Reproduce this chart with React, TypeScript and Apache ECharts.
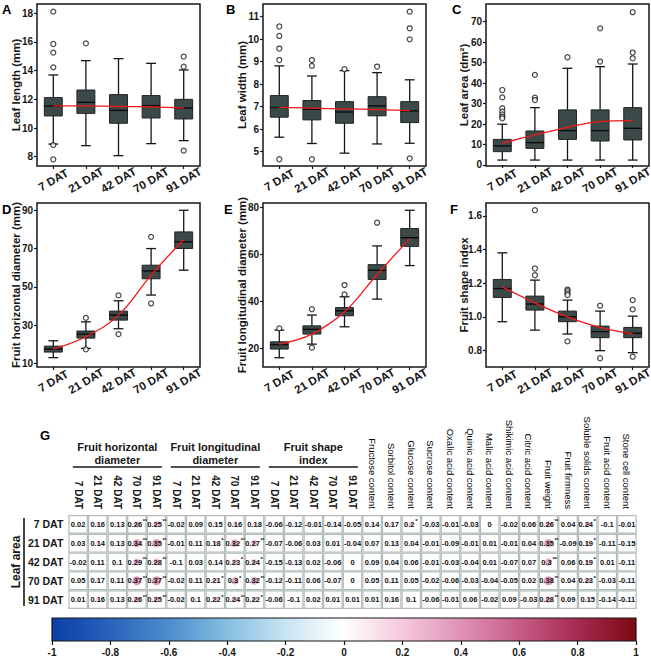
import React, { useEffect, useRef } from "react";
import * as echarts from "echarts";

const FONT = "'Liberation Sans', Arial, Helvetica, sans-serif";

// ---------- categories ----------
const DAT = ["7 DAT", "21 DAT", "42 DAT", "70 DAT", "91 DAT"];

// ---------- box plots: [lower whisker, Q1, median, Q3, upper whisker] ----------
const leafLengthBox = [
  [8.88, 10.84, 11.53, 12.12, 13.7],
  [8.77, 11.02, 11.79, 12.65, 14.7],
  [8.07, 10.33, 11.23, 12.33, 14.84],
  [8.91, 10.7, 11.56, 12.26, 14.51],
  [9.12, 10.63, 11.4, 12.0, 14.05],
];
const leafLengthOutliers = [[18.12, 15.86, 15.26, 14.23, 8.81, 7.81], [15.9], [], [], [14.98, 14.28, 8.42]];
const leafLengthTrend = [11.55, 11.55, 11.5, 11.47, 11.4];
const leafLengthTicks = [8, 10, 12, 14, 16, 18];

const leafWidthBox = [
  [5.64, 6.53, 6.96, 7.49, 8.81],
  [5.36, 6.41, 6.88, 7.27, 8.36],
  [4.93, 6.26, 6.76, 7.22, 8.6],
  [5.34, 6.59, 7.03, 7.44, 8.51],
  [5.37, 6.29, 6.81, 7.22, 8.19],
];
const leafWidthOutliers = [[10.56, 10.14, 9.58, 9.07, 4.66], [9.07, 8.81, 4.66], [8.66], [8.78], [11.22, 10.48, 9.99, 4.7]];
const leafWidthTrend = [6.97, 6.93, 6.9, 6.87, 6.82];
const leafWidthTicks = [5, 6, 7, 8, 9, 10, 11];

const leafAreaBox = [
  [2.4, 6.5, 9.3, 12.5, 19.9],
  [2.4, 8.1, 10.9, 16.6, 28.0],
  [2.4, 12.5, 16.8, 26.9, 47.2],
  [2.4, 11.7, 16.8, 26.9, 48.0],
  [2.4, 12.2, 17.9, 28.0, 49.3],
];
const leafAreaOutliers = [[36.6, 33.0, 27.7, 26.0, 24.7, 23.6, 22.8], [44.0, 32.9, 31.7], [52.6], [66.7, 50.5], [74.6, 54.9, 52.1]];
const leafAreaTrend = [10.6, 14.7, 18.4, 21.2, 21.7];
const leafAreaTicks = [0, 10, 20, 30, 40, 50, 60, 70];

const fruitHorizBox = [
  [13.0, 15.9, 17.5, 19.0, 21.8],
  [17.8, 23.2, 25.3, 26.9, 31.7],
  [28.1, 32.6, 35.2, 37.3, 42.7],
  [45.7, 54.2, 58.3, 61.3, 70.0],
  [58.7, 70.0, 73.5, 78.7, 90.0],
];
const fruitHorizOutliers = [[], [33.8, 17.3], [45.5, 25.3], [76.1, 41.3], []];
const fruitHorizTrend = [17.5, 23.9, 35.2, 56.1, 74.7];
const fruitHorizTicks = [10, 30, 50, 70, 90];

const fruitLongBox = [
  [16.0, 19.7, 21.6, 22.8, 27.8],
  [21.8, 26.1, 28.1, 29.6, 34.2],
  [29.2, 33.9, 36.0, 37.4, 42.0],
  [41.0, 49.4, 53.3, 55.7, 63.7],
  [55.3, 63.5, 67.2, 71.1, 78.9],
];
const fruitLongOutliers = [[28.5], [36.7, 20.3], [47.0, 43.0], [73.6], []];
const fruitLongTrend = [21.8, 26.1, 35.6, 51.5, 66.8];
const fruitLongTicks = [20, 40, 60, 80];

const fruitShapeBox = [
  [0.972, 1.116, 1.169, 1.223, 1.381],
  [0.922, 1.041, 1.077, 1.124, 1.219],
  [0.899, 0.972, 1.001, 1.035, 1.1],
  [0.8, 0.877, 0.913, 0.946, 1.035],
  [0.788, 0.877, 0.903, 0.938, 1.005],
];
const fruitShapeOutliers = [[], [1.634, 1.288, 1.248], [1.163, 1.153, 1.14, 1.13, 0.855], [1.067, 0.755], [1.1, 1.045, 0.764]];
const fruitShapeTrend = [1.179, 1.084, 1.001, 0.938, 0.899];
const fruitShapeTicks = [0.8, 1.0, 1.2, 1.4, 1.6];

// ---------- correlation matrix ----------
const FRUIT_GROUPS = ["Fruit horizontal\ndiameter", "Fruit longitudinal\ndiameter", "Fruit shape\nindex"];
const QUALITY_TRAITS = [
  "Fructose content", "Sorbitol content", "Glucose content", "Sucrose content",
  "Oxalic acid content", "Quinic acid content", "Malic acid content", "Shikimic acid content",
  "Citric acid content", "Fruit weight", "Fruit firmness", "Soluble solids content",
  "Fruit acid content", "Stone cell content",
];
const CORR_VALUES = [
  [0.02, 0.16, 0.13, 0.26, 0.25, -0.02, 0.09, 0.15, 0.16, 0.18, -0.06, -0.12, -0.01, -0.14, -0.05, 0.14, 0.17, 0.2, -0.03, -0.01, -0.03, 0, -0.02, 0.06, 0.26, 0.04, 0.24, -0.1, -0.01],
  [0.03, 0.14, 0.13, 0.34, 0.35, -0.01, 0.11, 0.18, 0.32, 0.27, -0.07, -0.06, 0.03, 0.01, -0.04, 0.07, 0.13, 0.04, -0.01, -0.09, -0.01, 0.01, -0.01, 0.04, 0.35, -0.09, 0.19, -0.11, -0.15],
  [-0.02, 0.11, 0.1, 0.29, 0.28, -0.1, 0.03, 0.14, 0.23, 0.24, -0.15, -0.13, 0.02, -0.06, 0, 0.09, 0.04, 0.06, -0.01, -0.03, -0.04, 0.01, -0.07, 0.07, 0.3, 0.06, 0.19, 0.01, -0.11],
  [0.05, 0.17, 0.11, 0.37, 0.37, -0.02, 0.11, 0.21, 0.3, 0.32, -0.12, -0.11, 0.06, -0.07, 0, 0.05, 0.11, 0.05, -0.02, -0.06, -0.03, -0.04, -0.05, 0.02, 0.38, 0.04, 0.23, -0.03, -0.11],
  [0.01, 0.16, 0.13, 0.26, 0.25, -0.02, 0.1, 0.22, 0.24, 0.22, -0.06, -0.1, 0.02, 0.01, 0.01, 0.01, 0.16, 0.1, -0.06, -0.01, 0.06, -0.02, 0.09, -0.03, 0.28, 0.09, 0.15, -0.14, -0.11],
];
// number of significance asterisks
const CORR_STARS = [
  [0, 0, 0, 2, 2, 0, 0, 0, 0, 0, 0, 0, 0, 0, 0, 0, 0, 1, 0, 0, 0, 0, 0, 0, 2, 0, 1, 0, 0],
  [0, 0, 0, 2, 2, 0, 0, 1, 2, 2, 0, 0, 0, 0, 0, 0, 0, 0, 0, 0, 0, 0, 0, 0, 2, 0, 1, 0, 0],
  [0, 0, 0, 2, 2, 0, 0, 0, 1, 1, 0, 0, 0, 0, 0, 0, 0, 0, 0, 0, 0, 0, 0, 0, 2, 0, 1, 0, 0],
  [0, 0, 0, 2, 2, 0, 0, 1, 1, 2, 0, 0, 0, 0, 0, 0, 0, 0, 0, 0, 0, 0, 0, 0, 2, 0, 1, 0, 0],
  [0, 0, 0, 2, 2, 0, 0, 1, 2, 1, 0, 0, 0, 0, 0, 0, 0, 0, 0, 0, 0, 0, 0, 0, 2, 0, 0, 0, 0],
];

// ---------- colour scale ----------
const CB_VALUES = [-1, -0.8, -0.6, -0.4, -0.2, 0, 0.2, 0.4, 0.6, 0.8, 1];
const CB_COLORS = ["#0b3ea6", "#2a63bb", "#4d8dcc", "#86bee1", "#c8e4f1", "#ffffff", "#f4c9dc", "#df92b5", "#c65d86", "#a52b51", "#7b0a14"];

function hexRgb(c: string) {
  return [parseInt(c.slice(1, 3), 16), parseInt(c.slice(3, 5), 16), parseInt(c.slice(5, 7), 16)];
}
function colorFor(v: number) {
  for (let i = 0; i < CB_VALUES.length - 1; i++) {
    if (v <= CB_VALUES[i + 1]) {
      const t = (v - CB_VALUES[i]) / (CB_VALUES[i + 1] - CB_VALUES[i]);
      const a = hexRgb(CB_COLORS[i]);
      const b = hexRgb(CB_COLORS[i + 1]);
      const m = a.map((x, k) => Math.round(x + (b[k] - x) * t));
      return `rgb(${m[0]},${m[1]},${m[2]})`;
    }
  }
  return CB_COLORS[CB_COLORS.length - 1];
}

const PANELS = [
  { letter: "A", title: "Leaf length (mm)", box: leafLengthBox, out: leafLengthOutliers, trend: leafLengthTrend, ticks: leafLengthTicks, dec: 0 },
  { letter: "B", title: "Leaf width (mm)", box: leafWidthBox, out: leafWidthOutliers, trend: leafWidthTrend, ticks: leafWidthTicks, dec: 0 },
  { letter: "C", title: "Leaf area (dm²)", box: leafAreaBox, out: leafAreaOutliers, trend: leafAreaTrend, ticks: leafAreaTicks, dec: 0 },
  { letter: "D", title: "Fruit horizontal diameter (mm)", box: fruitHorizBox, out: fruitHorizOutliers, trend: fruitHorizTrend, ticks: fruitHorizTicks, dec: 0 },
  { letter: "E", title: "Fruit longitudinal diameter (mm)", box: fruitLongBox, out: fruitLongOutliers, trend: fruitLongTrend, ticks: fruitLongTicks, dec: 0 },
  { letter: "F", title: "Fruit shape index", box: fruitShapeBox, out: fruitShapeOutliers, trend: fruitShapeTrend, ticks: fruitShapeTicks, dec: 1 },
];

const LAYOUT = [
  { left: 37, top: 4, width: 163, height: 162, yMin: 7.35, yMax: 18.65, gap: 15, lx: 2, ly: 3 },
  { left: 263, top: 4, width: 163, height: 162, yMin: 4.36, yMax: 11.56, gap: 15, lx: 226, ly: 3 },
  { left: 486, top: 4, width: 163, height: 162, yMin: -0.5, yMax: 78.6, gap: 16, lx: 452, ly: 3 },
  { left: 37, top: 203, width: 163, height: 164, yMin: 8.1, yMax: 93.8, gap: 15, lx: 2, ly: 203 },
  { left: 263, top: 203, width: 163, height: 164, yMin: 12.05, yMax: 82, gap: 15, lx: 224, ly: 203 },
  { left: 486, top: 203, width: 163, height: 164, yMin: 0.703, yMax: 1.677, gap: 16, lx: 450, ly: 203 },
];

const HM = { left: 68.3, top: 515, width: 568.4, height: 94 };
const CB = { left: 52, top: 618, width: 584, height: 23 };
const INK = "#161616";

export default function App() {
  const ref = useRef<HTMLDivElement>(null);

  useEffect(() => {
    if (!ref.current) return;
    const chart = echarts.init(ref.current, null, { renderer: "svg" });

    const grid: any[] = [];
    const xAxis: any[] = [];
    const yAxis: any[] = [];
    const series: any[] = [];
    const graphic: any[] = [];
    const pos = [1, 2, 3, 4, 5];

    PANELS.forEach((p, i) => {
      const L = LAYOUT[i];
      grid.push({
        left: L.left, top: L.top, width: L.width, height: L.height,
        show: true, borderColor: INK, borderWidth: 1.5, backgroundColor: "transparent",
        containLabel: false, outerBoundsMode: "none",
      });
      xAxis.push({
        type: "value", gridIndex: i, min: 0.5, max: 5.5,
        splitLine: { show: false }, axisLine: { show: false },
        axisTick: { show: true, customValues: pos, length: 3, lineStyle: { color: INK, width: 1.2 } },
        axisLabel: {
          customValues: pos, formatter: (v: number) => DAT[Math.round(v) - 1] ?? "",
          rotate: 30, margin: 14, align: "center", verticalAlign: "middle",
          fontSize: 11.5, fontWeight: "bold", color: INK, fontFamily: FONT,
        },
      });
      yAxis.push({
        type: "value", gridIndex: i, min: L.yMin, max: L.yMax,
        name: p.title, nameLocation: "middle", nameGap: L.gap, nameMoveOverlap: false,
        nameTextStyle: { fontSize: 11.5, fontWeight: "bold", color: INK, fontFamily: FONT },
        splitLine: { show: false }, axisLine: { show: false },
        axisTick: { show: true, customValues: p.ticks, length: 3, lineStyle: { color: INK, width: 1.2 } },
        axisLabel: {
          customValues: p.ticks, formatter: (v: number) => (p.dec ? v.toFixed(p.dec) : String(v)),
          margin: 4, fontSize: 10, fontWeight: "bold", color: INK, fontFamily: FONT,
        },
      });
      series.push({
        type: "custom", xAxisIndex: i, yAxisIndex: i, clip: false,
        data: p.box.map((b, k) => [k + 1, ...b]),
        encode: { x: 0, y: [1, 2, 3, 4, 5] },
        renderItem: (params: any, api: any) => {
          const x = api.value(0);
          const ys = [1, 2, 3, 4, 5].map((d) => api.coord([x, api.value(d)])[1]);
          const cx = api.coord([x, api.value(3)])[0];
          const bw = api.size([1, 0])[0] * 0.55;
          const cw = bw * 0.55;
          const [lo, q1, md, q3, hi] = ys;
          const ln = { stroke: INK, lineWidth: 1.3 };
          return {
            type: "group",
            children: [
              { type: "line", shape: { x1: cx, y1: hi, x2: cx, y2: lo }, style: ln },
              { type: "line", shape: { x1: cx - cw / 2, y1: hi, x2: cx + cw / 2, y2: hi }, style: ln },
              { type: "line", shape: { x1: cx - cw / 2, y1: lo, x2: cx + cw / 2, y2: lo }, style: ln },
              { type: "rect", shape: { x: cx - bw / 2, y: q3, width: bw, height: q1 - q3 }, style: { fill: "#3b4949", stroke: "#222", lineWidth: 1 } },
              { type: "line", shape: { x1: cx - bw / 2, y1: md, x2: cx + bw / 2, y2: md }, style: { stroke: "#0c0c0c", lineWidth: 1.4 } },
            ],
          };
        },
        z: 2,
      });
      series.push({
        type: "scatter", xAxisIndex: i, yAxisIndex: i,
        data: p.out.flatMap((arr, k) => arr.map((v) => [k + 1, v])),
        symbol: "circle", symbolSize: 5,
        itemStyle: { color: "#fff", borderColor: INK, borderWidth: 1.2 },
        z: 4,
      });
      series.push({
        type: "line", xAxisIndex: i, yAxisIndex: i,
        data: p.trend.map((v, k) => [k + 1, v]),
        smooth: 0.4, symbol: "none",
        lineStyle: { color: "#f01818", width: 1.3 },
        z: 5,
      });
      graphic.push({
        type: "text", x: L.lx, y: L.ly,
        style: { text: p.letter, font: `bold 13px ${FONT}`, fill: "#000", align: "left", verticalAlign: "top" },
      });
    });

    // ---------- correlation heat map ----------
    const colKeys = [
      ...FRUIT_GROUPS.flatMap((g, gi) => DAT.map((d) => `${gi}|${d}`)),
      ...QUALITY_TRAITS.map((t) => `q|${t}`),
    ];
    const hmIndex = grid.length;
    grid.push({ left: HM.left, top: HM.top, width: HM.width, height: HM.height, containLabel: false, outerBoundsMode: "none" });
    xAxis.push({
      type: "category", gridIndex: hmIndex, data: colKeys, position: "top",
      axisLine: { show: false }, axisTick: { show: false },
      axisLabel: {
        interval: 0, rotate: 90, margin: 6,
        formatter: (val: string) => {
          const [k, name] = val.split("|");
          return k === "q" ? `{t|${name}}` : `{d|${name}}`;
        },
        rich: {
          d: { fontSize: 10, fontWeight: "bold", color: INK, fontFamily: FONT },
          t: { fontSize: 9.5, fontWeight: "normal", color: "#000", fontFamily: FONT },
        },
      },
    });
    yAxis.push({
      type: "category", gridIndex: hmIndex, data: DAT, inverse: true,
      axisLine: { show: false }, axisTick: { show: false },
      name: "Leaf area", nameLocation: "middle", nameGap: 46, nameMoveOverlap: false,
      nameTextStyle: { fontSize: 12, fontWeight: "bold", color: INK, fontFamily: FONT },
      axisLabel: { margin: 5, fontSize: 10.5, fontWeight: "bold", color: INK, fontFamily: FONT },
    });
    const cells: number[][] = [];
    CORR_VALUES.forEach((row, r) => row.forEach((v, c) => cells.push([c, r, v, CORR_STARS[r][c]])));
    series.push({
      type: "custom", xAxisIndex: hmIndex, yAxisIndex: hmIndex,
      data: cells,
      renderItem: (params: any, api: any) => {
        const c = api.value(0);
        const r = api.value(1);
        const v = api.value(2);
        const s = api.value(3);
        const [cx, cy] = api.coord([c, r]);
        const [w, h] = api.size([1, 1]);
        const tx = s ? cx - 2 : cx;
        const children: any[] = [
          { type: "rect", shape: { x: cx - w / 2 + 0.6, y: cy - h / 2 + 0.6, width: w - 1.2, height: h - 1.2 }, style: { fill: "#fff", stroke: "#b2bbbb", lineWidth: 1.2 } },
          { type: "circle", shape: { cx, cy, r: Math.abs(v) * 12 }, style: { fill: colorFor(v) } },
          { type: "text", x: tx, y: cy, style: { text: String(v), font: `bold 7.5px ${FONT}`, fill: "#111", align: "center", verticalAlign: "middle" } },
        ];
        if (s) {
          const half = String(v).length * 1.9;
          children.push({ type: "text", x: tx + half + 0.3, y: cy - 3, style: { text: "*".repeat(s), font: `bold 6px ${FONT}`, fill: "#111", align: "left", verticalAlign: "middle" } });
        }
        return { type: "group", children };
      },
    });

    // group headers
    const colW = HM.width / colKeys.length;
    FRUIT_GROUPS.forEach((g, gi) => {
      const x0 = HM.left + colW * gi * 5;
      const x1 = x0 + colW * 5;
      graphic.push({
        type: "text", x: (x0 + x1) / 2, y: 441,
        style: { text: g, font: `bold 11px ${FONT}`, fill: INK, align: "center", verticalAlign: "top", lineHeight: 12.5 },
      });
      graphic.push({
        type: "line", shape: { x1: x0 + 4.5, y1: 467, x2: x1 - 4.5, y2: 467 },
        style: { stroke: INK, lineWidth: 1.3 },
      });
    });
    graphic.push({
      type: "line", shape: { x1: 24, y1: 518, x2: 24, y2: 606 },
      style: { stroke: INK, lineWidth: 1.6 },
    });
    graphic.push({
      type: "text", x: 40, y: 429,
      style: { text: "G", font: `bold 13px ${FONT}`, fill: "#000", align: "left", verticalAlign: "top" },
    });

    // ---------- colour bar ----------
    const cbIndex = grid.length;
    grid.push({ left: CB.left, top: CB.top, width: CB.width, height: CB.height, containLabel: false, outerBoundsMode: "none" });
    xAxis.push({
      type: "value", gridIndex: cbIndex, min: -1, max: 1, interval: 0.2,
      splitLine: { show: false }, axisLine: { show: false },
      axisTick: { show: true, length: 4, lineStyle: { color: INK, width: 1.2 } },
      axisLabel: {
        margin: 6, fontSize: 10, fontWeight: "bold", color: INK, fontFamily: FONT,
        formatter: (v: number) => String(parseFloat(v.toFixed(1))),
      },
    });
    yAxis.push({ type: "value", gridIndex: cbIndex, min: 0, max: 1, show: false });
    series.push({
      type: "custom", xAxisIndex: cbIndex, yAxisIndex: cbIndex,
      data: [[-1, 0, 1, 1]],
      renderItem: (params: any, api: any) => {
        const p0 = api.coord([api.value(0), api.value(3)]);
        const p1 = api.coord([api.value(2), api.value(1)]);
        return {
          type: "rect",
          shape: { x: p0[0], y: p0[1], width: p1[0] - p0[0], height: p1[1] - p0[1] },
          style: {
            fill: new echarts.graphic.LinearGradient(0, 0, 1, 0,
              CB_VALUES.map((v, k) => ({ offset: (v + 1) / 2, color: CB_COLORS[k] }))),
            stroke: INK, lineWidth: 1.2,
          },
        };
      },
    });

    chart.setOption({
      animation: false,
      backgroundColor: "#fff",
      textStyle: { fontFamily: FONT },
      grid, xAxis, yAxis, series, graphic,
    });

    return () => chart.dispose();
  }, []);

  return (
    <div
      ref={ref}
      style={{ position: "absolute", left: 0, top: 0, width: 651, height: 660, background: "#fff" }}
    />
  );
}
